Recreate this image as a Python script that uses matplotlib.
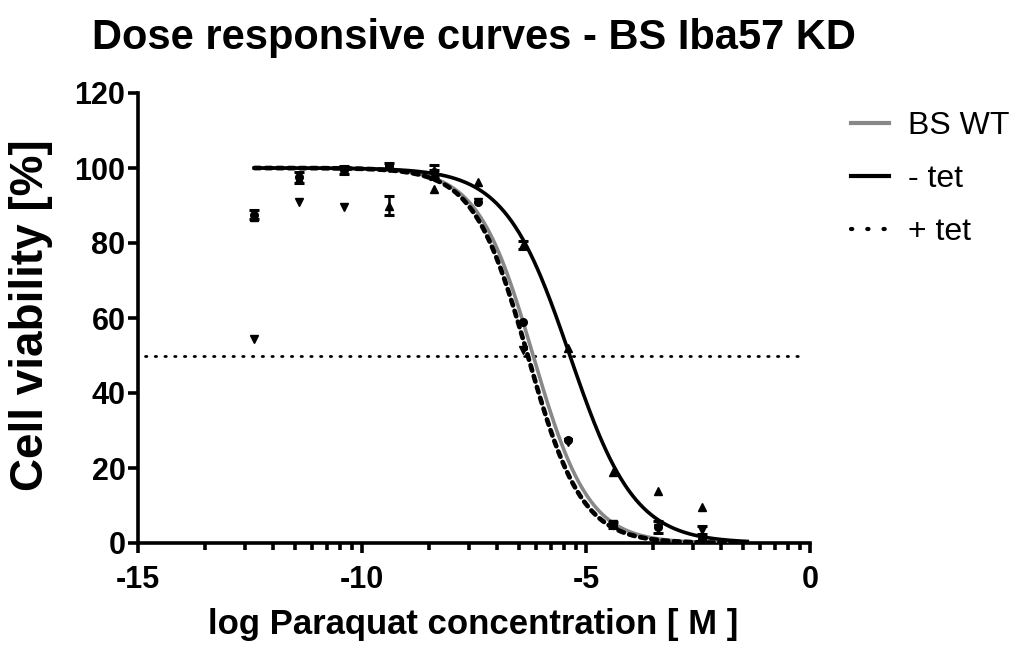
import numpy as np
import matplotlib
matplotlib.use('Agg')
import matplotlib.pyplot as plt
from matplotlib.lines import Line2D

plt.rcParams['font.family'] = ['Liberation Sans', 'DejaVu Sans']
plt.rcParams['font.weight'] = 'bold'

# log Paraquat concentration [M]
log_conc = [-12.4, -11.4, -10.4, -9.4, -8.4, -7.4, -6.4, -5.4, -4.4, -3.4, -2.4]

# mean cell viability [%] and SEM per strain (0 = no visible bar)
wt_mean = [87.5, 97.5, 99.5, 100.5, 99.0, 91.0, 59.0, 27.5, 4.8, 4.3, 1.0]
wt_err = [1.2, 1.5, 1.0, 0.8, 1.8, 0.0, 0.0, 0.0, 0.8, 1.5, 0.0]
minus_mean = [87.0, 97.0, 99.5, 90.0, 94.4, 96.3, 79.5, 52.0, 19.0, 13.9, 9.6]
minus_err = [0.0, 0.0, 0.0, 2.5, 0.0, 0.0, 1.0, 0.0, 0.0, 0.0, 0.0]
plus_mean = [54.4, 91.0, 89.5, 100.0, 98.5, 91.0, 51.5, 27.0, 5.0, 4.0, 3.5]
plus_err = [0.0, 0.0, 0.0, 0.0, 1.0, 0.0, 0.0, 0.0, 0.0, 0.0, 1.0]

# fitted curves: logEC50 and hill slope (top 100, bottom 0)
fit_labels = ['BS WT', '- tet', '+ tet']
fit_ec50 = [-6.18, -5.36, -6.30]
fit_hill = [0.70, 0.60, 0.72]


def sigmoid(x, c, h):
    return 100.0 / (1 + 10 ** ((x - c) * h))


fig = plt.figure(figsize=(10.27, 6.46), dpi=100)
ax = fig.add_axes([138 / 1027, 1 - 543 / 646, 672 / 1027, 450 / 646])

xs = np.linspace(-12.4, -1.4, 400)
ax.plot(xs, sigmoid(xs, fit_ec50[0], fit_hill[0]), color='#888888', lw=2.6, zorder=3)
ax.plot(xs, sigmoid(xs, fit_ec50[1], fit_hill[1]), color='black', lw=2.6, zorder=3)
ax.plot(xs, sigmoid(xs, fit_ec50[2], fit_hill[2]), color='black', lw=3.4,
        linestyle=(0, (1.2, 1.2)), dash_capstyle='round', zorder=3)

# 50 % line
ax.plot([-14.85, -0.1], [50, 50], color='black', lw=2, linestyle=(0, (0.5, 3.0)),
        dash_capstyle='round', zorder=2)

for mean, err, mk in [(wt_mean, wt_err, 'o'), (minus_mean, minus_err, '^'),
                      (plus_mean, plus_err, 'v')]:
    ax.plot(log_conc, mean, ls='none', marker=mk, color='black', ms=5.5, zorder=4)
    e = np.array(err)
    sel = e > 0
    ax.errorbar(np.array(log_conc)[sel], np.array(mean)[sel], yerr=e[sel], ls='none',
                color='black', capsize=3.5, elinewidth=1.8, capthick=2.2, zorder=4)

ax.set_xlim(-15, 0)
ax.set_ylim(0, 120)
ax.set_xticks([-15, -10, -5, 0])
ax.set_xticklabels(['-15', '-10', '-5', '0'])
minor = [d + 5 * np.log10(k) for d in (-15, -10, -5) for k in range(2, 10)]
ax.set_xticks(minor, minor=True)
ax.set_yticks(range(0, 121, 20))

for s in ['top', 'right']:
    ax.spines[s].set_visible(False)
for s in ['left', 'bottom']:
    ax.spines[s].set_linewidth(2.6)
ax.tick_params(axis='both', which='major', direction='out', length=7, width=2.6,
               labelsize=22, pad=2)
ax.tick_params(axis='x', which='major', pad=9)
ax.tick_params(axis='x', which='minor', direction='out', length=5, width=2.6)
for lab in ax.get_xticklabels() + ax.get_yticklabels():
    lab.set_fontweight('bold')

fig.text(0.4615, 0.941, 'Dose responsive curves - BS Iba57 KD', ha='center', va='center',
         fontsize=30, fontweight='bold')
fig.text(0.030, 0.512, 'Cell viability [%]', ha='center', va='center', rotation=90,
         fontsize=33, fontweight='bold')
fig.text(0.4605, 0.033, 'log Paraquat concentration [ M ]', ha='center', va='center',
         fontsize=25, fontweight='bold')

handles = [Line2D([], [], color='#888888', lw=3),
           Line2D([], [], color='black', lw=3),
           Line2D([], [], color='black', lw=3, linestyle=(0, (0.3, 3.6)), dash_capstyle='round')]
leg = fig.legend(handles, fit_labels, loc='upper left', bbox_to_anchor=(851 / 1027, 1 - 111 / 646),
                 frameon=False, fontsize=23, handlelength=1.2, handletextpad=0.6,
                 labelspacing=0.72, borderpad=0, borderaxespad=0)
for t in leg.get_texts():
    t.set_fontweight('normal')

fig.savefig('out.png', dpi=100)
